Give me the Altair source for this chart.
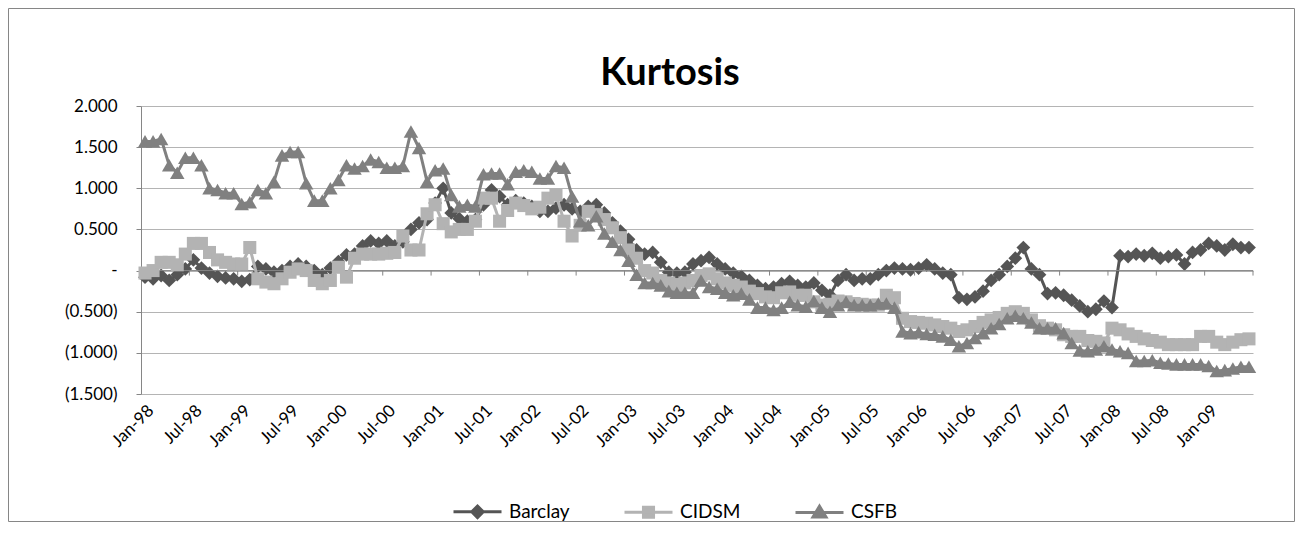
import json
import altair as alt
import pandas as pd

# ---------------- data ----------------
title_text = "Kurtosis"
series_names = ["Barclay", "CIDSM", "CSFB"]
series_colors = ["#555555", "#b3b3b3", "#808080"]
series_shapes = ["diamond", "square", "triangle-up"]
series_sizes = [190, 170, 210]

barclay = [
    -0.08, -0.10, -0.06, -0.12, -0.05, 0.02, 0.13, 0.03, -0.03, -0.07, -0.09, -0.10,
    -0.13, -0.11, 0.05, 0.02, -0.02, 0.00, 0.05, 0.08, 0.05, 0.00, -0.05, 0.03,
    0.11, 0.19, 0.20, 0.30, 0.36, 0.33, 0.36, 0.30, 0.35, 0.50, 0.58, 0.62,
    0.82, 1.00, 0.70, 0.63, 0.60, 0.62, 0.80, 0.98, 0.90, 0.80, 0.85, 0.82,
    0.78, 0.72, 0.72, 0.76, 0.80, 0.75, 0.72, 0.78, 0.80, 0.70, 0.58, 0.48,
    0.38, 0.25, 0.20, 0.22, 0.10, -0.02, -0.03, -0.02, 0.08, 0.12, 0.16, 0.08,
    0.02, -0.03, -0.07, -0.12, -0.18, -0.22, -0.20, -0.16, -0.13, -0.18, -0.20, -0.15,
    -0.24, -0.30, -0.12, -0.05, -0.12, -0.10, -0.10, -0.05, 0.00, 0.03, 0.02, 0.01,
    0.03, 0.07, 0.02, -0.03, -0.05, -0.33, -0.35, -0.32, -0.25, -0.12, -0.05, 0.05,
    0.15, 0.28, 0.02, -0.05, -0.28, -0.27, -0.30, -0.36, -0.43, -0.50, -0.47, -0.37,
    -0.45, 0.18, 0.17, 0.20, 0.18, 0.21, 0.15, 0.17, 0.19, 0.08, 0.22, 0.25,
    0.33, 0.30, 0.25, 0.32, 0.28, 0.28,
]

cidsm = [
    -0.03, 0.00, 0.10, 0.10, 0.07, 0.20, 0.33, 0.33, 0.22, 0.13, 0.10, 0.08,
    0.08, 0.28, -0.10, -0.14, -0.16, -0.10, -0.02, 0.02, 0.00, -0.12, -0.16, -0.12,
    0.04, -0.08, 0.15, 0.20, 0.20, 0.20, 0.21, 0.22, 0.42, 0.25, 0.25, 0.69,
    0.80, 0.57, 0.47, 0.50, 0.50, 0.60, 0.88, 0.88, 0.60, 0.73, 0.82, 0.79,
    0.75, 0.77, 0.88, 0.92, 0.60, 0.42, 0.55, 0.72, 0.68, 0.62, 0.52, 0.40,
    0.25, 0.15, 0.00, -0.03, -0.12, -0.15, -0.17, -0.15, -0.12, -0.06, -0.04, -0.10,
    -0.15, -0.18, -0.20, -0.25, -0.28, -0.32, -0.33, -0.27, -0.26, -0.30, -0.30, -0.38,
    -0.42, -0.41, -0.37, -0.38, -0.40, -0.41, -0.42, -0.42, -0.30, -0.33, -0.58, -0.62,
    -0.63, -0.64, -0.66, -0.68, -0.70, -0.74, -0.72, -0.68, -0.63, -0.60, -0.57, -0.52,
    -0.50, -0.52, -0.60, -0.67, -0.70, -0.72, -0.78, -0.80, -0.80, -0.85, -0.86, -0.88,
    -0.70, -0.72, -0.77, -0.80, -0.83, -0.85, -0.87, -0.90, -0.90, -0.90, -0.90, -0.80,
    -0.80, -0.87, -0.90, -0.87, -0.84, -0.83,
]

csfb = [
    1.57, 1.57, 1.60, 1.28, 1.19, 1.37, 1.37, 1.28, 1.00, 0.98, 0.94, 0.94,
    0.81, 0.83, 0.98, 0.94, 1.08, 1.40, 1.44, 1.44, 1.06, 0.85, 0.85, 1.00,
    1.10, 1.28, 1.24, 1.27, 1.35, 1.32, 1.25, 1.25, 1.27, 1.69, 1.49, 1.08,
    1.22, 1.24, 0.92, 0.78, 0.80, 0.78, 1.17, 1.18, 1.18, 1.05, 1.20, 1.22,
    1.20, 1.12, 1.12, 1.27, 1.25, 0.90, 0.60, 0.55, 0.66, 0.45, 0.35, 0.25,
    0.12, -0.05, -0.15, -0.15, -0.18, -0.25, -0.27, -0.27, -0.27, -0.12, -0.20, -0.22,
    -0.27, -0.30, -0.28, -0.35, -0.45, -0.45, -0.48, -0.45, -0.38, -0.42, -0.44, -0.37,
    -0.45, -0.50, -0.42, -0.38, -0.42, -0.42, -0.42, -0.40, -0.40, -0.45, -0.74, -0.76,
    -0.75, -0.77, -0.78, -0.80, -0.84, -0.92, -0.88, -0.82, -0.76, -0.70, -0.65, -0.58,
    -0.55, -0.58, -0.63, -0.70, -0.70, -0.70, -0.76, -0.88, -0.97, -0.98, -0.96, -0.92,
    -0.96, -0.98, -1.00, -1.10, -1.10, -1.09, -1.12, -1.13, -1.14, -1.14, -1.14, -1.14,
    -1.16, -1.22, -1.21, -1.19, -1.17, -1.17,
]

month_names = ["Jan", "Feb", "Mar", "Apr", "May", "Jun",
               "Jul", "Aug", "Sep", "Oct", "Nov", "Dec"]
N = len(barclay)
month_labels = [f"{month_names[i % 12]}-{(1998 + i // 12) % 100:02d}" for i in range(N)]

y_tick_values = [-1.5, -1.0, -0.5, 0.0, 0.5, 1.0, 1.5, 2.0]
# category boundaries where the (zero-crossing) category axis has tick marks
x_tick_bounds = [-0.5 + 6 * k for k in range(N // 6 + 1)]

rows = []
for name, vals in zip(series_names, [barclay, cidsm, csfb]):
    for i, v in enumerate(vals):
        rows.append({"idx": i, "month": month_labels[i], "series": name, "value": v})
df = pd.DataFrame(rows)
ticks_df = pd.DataFrame({"b": x_tick_bounds, "zero": [0.0] * len(x_tick_bounds)})

# ---------------- layout / style ----------------
W, H = 1112, 288
YMIN, YMAX = -1.5, 2.0
FONT = "Lato"
AX = "#868686"
GRID = "#b4b4b4"

legend_paths = [
    "M-1,0L1,0M0,-0.24L0.24,0L0,0.24L-0.24,0Z",
    "M-1,0L1,0M-0.21,-0.21L0.21,-0.21L0.21,0.21L-0.21,0.21Z",
    "M-1,0L1,0M0,-0.26L0.27,0.19L-0.27,0.19Z",
]

x_scale = alt.Scale(domain=[-0.5, N - 0.5], nice=False, zero=False)
y_scale = alt.Scale(domain=[YMIN, YMAX], nice=False, zero=False)

label_axis = alt.Axis(
    values=list(range(0, N, 6)),
    labelExpr=json.dumps(month_labels) + "[datum.value]",
    labelAngle=-45, labelFont=FONT, labelFontSize=17, labelColor="#000000",
    labelPadding=8, ticks=False, domain=False, grid=False, title=None,
)
nb = "\u00a0"
y_axis = alt.Axis(
    values=y_tick_values, grid=True, gridColor=GRID, gridWidth=1,
    domain=True, domainColor=AX, ticks=True, tickColor=AX, tickSize=5,
    labelFont=FONT, labelFontSize=17, labelColor="#000000", labelPadding=19,
    labelExpr=(
        "datum.value == 0 ? '-" + nb * 5 + "' : (datum.value < 0 ? '(' + format(-datum.value, '.3f') + ')' "
        ": format(datum.value, '.3f') + '" + nb * 2 + "')"
    ),
    title=None,
)

# chart-area frame
border = alt.Chart(pd.DataFrame({"k": [0]})).mark_rect(
    fillOpacity=0, stroke=AX, strokeWidth=1
).encode(
    x=alt.value(-132.5), x2=alt.value(W + 41.5),
    y=alt.value(-97.5), y2=alt.value(H + 127.5),
)

title_layer = alt.Chart(pd.DataFrame({"t": [title_text]})).mark_text(
    font=FONT, fontSize=38, fontWeight="bold", color="#000000",
    align="center", baseline="alphabetic",
).encode(text="t:N", x=alt.value(529), y=alt.value(-21))

# horizontal category axis line crossing at zero, with tick marks below it
zero_line = alt.Chart(ticks_df).mark_rule(color=AX, strokeWidth=1).encode(
    x=alt.X("min(b):Q", scale=x_scale),
    x2="max(b):Q",
    y=alt.Y("min(zero):Q", scale=y_scale),
)
zero_ticks = alt.Chart(ticks_df).mark_rule(color=AX, strokeWidth=1, y2Offset=5).encode(
    x=alt.X("b:Q", scale=x_scale),
    y=alt.Y("zero:Q", scale=y_scale),
    y2="zero:Q",
)

layers = [border, title_layer]
for k, (name, color, shape, size) in enumerate(zip(series_names, series_colors, series_shapes, series_sizes)):
    base = alt.Chart(df).transform_filter(alt.datum.series == name)
    if k == 0:
        xe = alt.X("idx:Q", scale=x_scale, axis=label_axis)
        ye = alt.Y("value:Q", scale=y_scale, axis=y_axis)
    else:
        xe = alt.X("idx:Q", scale=x_scale)
        ye = alt.Y("value:Q", scale=y_scale)
    line = base.mark_line(color=color, strokeWidth=3).encode(x=xe, y=ye)
    pts = base.mark_point(filled=True, shape=shape, size=size, color=color, opacity=1).encode(
        x=alt.X("idx:Q", scale=x_scale),
        y=alt.Y("value:Q", scale=y_scale),
        tooltip=["month:N", "series:N", "value:Q"],
    )
    layers += [line, pts]
    if k == 0:
        layers += [zero_line, zero_ticks]

leg = alt.Legend(
    title=None, orient="none", legendX=311, legendY=380, direction="horizontal",
    symbolSize=2304, symbolStrokeWidth=3, symbolOpacity=1,
    labelFont=FONT, labelFontSize=19, labelColor="#000000", labelOffset=6,
    columnPadding=48, padding=0, symbolOffset=0,
)
legend_layer = alt.Chart(df).transform_filter("false").mark_point(filled=True, opacity=1).encode(
    x=alt.X("idx:Q", scale=x_scale),
    y=alt.Y("value:Q", scale=y_scale),
    color=alt.Color("series:N", scale=alt.Scale(domain=series_names, range=series_colors), legend=leg),
    stroke=alt.Stroke("series:N", scale=alt.Scale(domain=series_names, range=series_colors), legend=leg),
    shape=alt.Shape("series:N", scale=alt.Scale(domain=series_names, range=legend_paths), legend=leg),
)
layers.append(legend_layer)

chart = alt.layer(*layers).properties(
    width=W, height=H,
    padding={"left": 133, "top": 98, "right": 42, "bottom": 128},
    autosize=alt.AutoSizeParams(type="none"),
    background="white",
).configure_view(stroke=None)

chart.save("out.html", embed_options={"renderer": "svg", "actions": False})
